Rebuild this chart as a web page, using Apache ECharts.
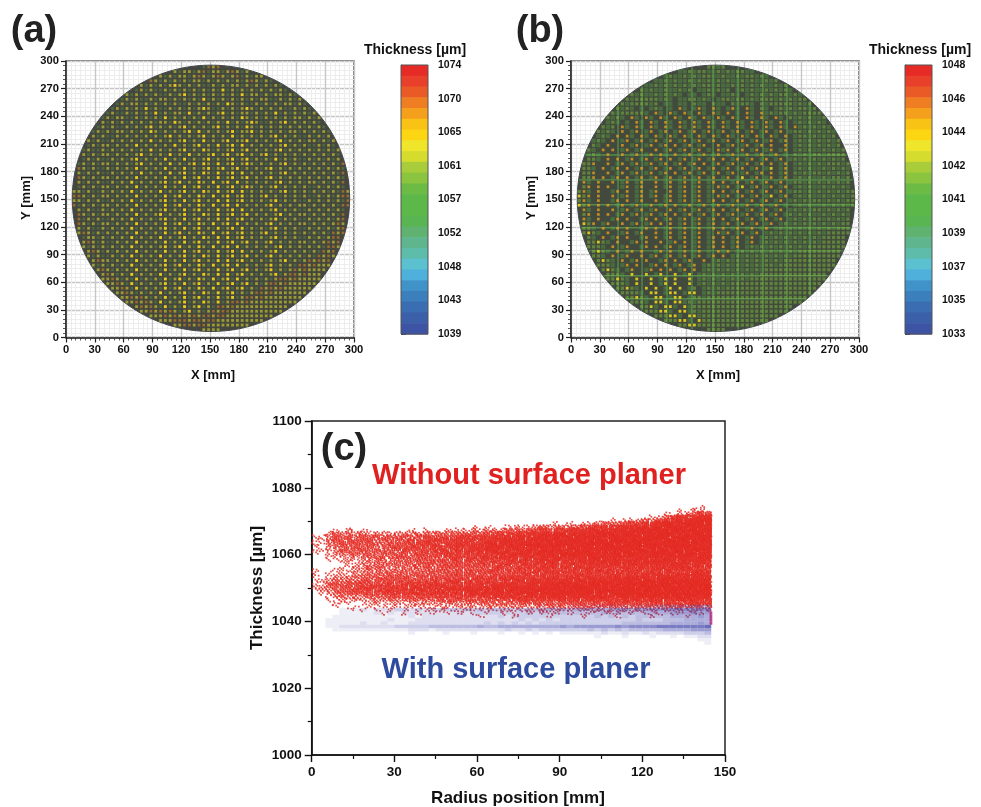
<!DOCTYPE html>
<html><head><meta charset="utf-8">
<script src="https://cdn.jsdelivr.net/npm/echarts@6/dist/echarts.min.js"></script>
<style>html,body{margin:0;background:#fff}#c{width:981px;height:807px}</style></head>
<body><div id="c"></div>
<script>
// ---- Data (hand estimates; the dense dots are summarised as level tables) ----
const waferTicks = [0,30,60,90,120,150,180,210,240,270,300];
const waferCentre = [151,151];
const waferRadius = 144.5;
const rangeA = [1039,1074];
const rangeB = [1033,1048];
const levelThicknessA = [null,1057,1063,1065,1069];
const levelThicknessB = [null,1040,1041.6,1045.4,1044];
// rows top to bottom at 5 mm pitch, columns left to right at 5 mm pitch; cells beyond the wafer edge are dropped.
// 0 none, 1 green, 2 olive/bright green, 3 yellow/amber, 4 amber/yellow
const waferRowsA = [
"2222222222 2222222222 2222242142 4242422222 2222222222 22222222",
"2222222222 2222222222 4212212412 2124212142 4222222222 22222222",
"2222222222 2222222421 2122124212 4212412122 4242222222 22222222",
"2222222222 2222124212 1212122121 2121212421 2124222222 22222222",
"2222222222 2221212121 2321212112 1212212121 2121242222 22222222",
"2222222222 2121212112 1212121212 1312121212 1212124222 22222222",
"2222222221 2212121211 2123121212 1212131221 2122121242 22222222",
"2222222212 1212112122 1212121312 1212121212 2112121212 22222222",
"2222222121 2122121212 1211212121 2132121121 2121221212 12222222",
"2222221212 1212131211 2121212321 1212123212 1212112121 21222222",
"2222212121 1212121312 1221312121 2312122121 2131212121 21222222",
"2222121212 2112121213 1212121312 1212132121 2121212212 12122222",
"2222212121 2121212122 1321212121 2131212321 1212312121 21212222",
"2221212121 1212123121 2123121212 3121213212 1212121212 12122222",
"2212121212 2121213212 1212313121 2123122312 1212122121 21212222",
"2221212112 1212121212 3121212312 1213121212 1231212112 12121222",
"2212121121 2121213121 2123121312 1231223121 2123121212 21212122",
"2121212212 1213121212 1312123121 3123131212 1212312121 12121242",
"2212112121 2121213121 2123121321 2123123121 2123121212 12121212",
"2421212212 1212312121 3121312123 1231231212 3121212121 21212142",
"2212121121 2123121213 1213121231 2123123121 2131212112 12121214",
"2121212212 1212312121 3121231321 3123123212 1212312121 21212142",
"2421211212 1213121213 1213121231 2312312121 2312121212 12121214",
"2212121121 2121312121 3123121321 3123131212 1212312121 21212142",
"4421212212 1213121213 1213123121 3123123121 2312121212 12121214",
"2212121121 2131212123 1231213213 1231312121 2123121212 21212144",
"4121212212 1213121213 1213123121 3123123212 1231212121 12121214",
"2212112121 2131212131 2123121321 3123131212 1212312121 21212142",
"4421212212 1213121213 1231213213 1231231212 3121212121 12121244",
"2212121121 2131212123 1213123121 3131231212 1231212112 12121214",
"4121212212 1213121213 1231213213 1231312121 2312121221 21212144",
"2212112121 2131212123 1213123121 3123131212 1231212112 12121214",
"4421212212 1213121231 2123121321 3123123121 2123121221 21212144",
"2412121121 2131212123 1213123121 3131231212 1231212112 12121244",
"2421212212 1213121213 1231213213 1231312121 2312121221 21212424",
"2212112121 2131212123 1213123121 3123131212 1231212112 12121244",
"2242121212 1213121213 1231213213 1231231212 3121212121 21214242",
"2212212121 2131212131 2123121321 3131231212 1231212112 12124424",
"2224212112 1213121213 1213123121 3123123121 2312121221 21242422",
"2221212121 2131212123 1231213213 1231312121 2123121212 12144222",
"2222421212 1213121213 1213123121 3123131212 1231212121 21424222",
"2222121121 2131212131 2123121321 3123123121 2312121212 14242222",
"2222242212 1213121213 1213123121 3131231212 1212312124 24242222",
"2222212121 2131212123 1231213213 1231312121 2312121442 42222222",
"2222224212 1213121213 1213123121 3123123121 2312124242 22222222",
"2222222421 2131212131 2123121321 3131231212 1231244242 22222222",
"2222222242 1213121213 1231213213 1231312121 2124424222 22222222",
"2222222224 2131212123 1213123121 3123123121 2442422222 22222222",
"2222222222 4213121213 1231213213 1231231214 2424222222 22222222",
"2222222222 2421212131 2123121321 3123121244 2422222222 22222222",
"2222222222 2242421213 1213123121 3123124424 2222222222 22222222",
"2222222222 2224242131 2123121321 3124424222 2222222222 22222222",
"2222222222 2222424213 1213123121 4424222222 2222222222 22222222",
"2222222222 2222224242 4212312124 2442222222 2222222222 22222222",
"2222222222 2222222224 2424242442 4422222222 2222222222 22222222",
"2222222222 2222222222 2444244244 2222222222 2222222222 22222222",
"2222222222 2222222222 2224424422 2222222222 2222222222 22222222",
"2222222222 2222222222 2222244222 2222222222 2222222222 22222222"
];
const waferRowsB = [
"1111111111 1111111111 1111121221 2212111111 1111111111 11111111",
"1111111111 1111111111 2112122112 1212211212 1111111111 11111111",
"1111111111 1111111212 1121212211 2112122121 1211111111 11111111",
"1111111111 1111121121 2112121212 1211212112 1212111111 11111111",
"1111111111 1112112121 2121212212 1121212121 1212121111 11111111",
"1111111111 1212121121 1212011212 1201212112 1212121211 11111111",
"1111111112 1212112121 2101101210 1121012121 2122121212 11111111",
"1111111121 2122222121 0112212101 2212212122 2121212222 11111111",
"1111111212 1222212011 0110211021 1021221021 2222212122 22111111",
"1111112121 2101012101 0310131031 0131031021 0121212212 12111111",
"1111121212 2222103103 1031031031 0301031031 2122121222 21211111",
"1111212121 0310310310 3103103103 1031031031 0310212121 12121111",
"1111121210 1031031031 0310310310 3103103103 1031012121 21212111",
"1112121203 1031031031 0310310310 3103103103 1031031212 12121211",
"1121212103 0130130130 1301301301 3013013013 0130122121 21212111",
"1212121030 3103103103 1031031031 0310310310 3103012212 12121211",
"1121210301 3013013013 0130130130 1301301301 3013012121 21212122",
"1212103003 0130130130 3013013003 0130130130 3003012121 21212121",
"2121030301 3013003013 0130130103 1301301301 3013012121 12121212",
"1212103003 0130130310 3013013013 0130130130 1301021212 21222222",
"2222103030 1301301303 0130130130 3013013013 0130121212 12121221",
"2223003013 0130130130 1301303013 0130130130 3013012121 21222121",
"2221030130 3013013013 0130130130 1301301301 4013012121 12121212",
"2223003013 0130130130 3013013013 0130130130 3013021212 21212122",
"4223030130 3013013013 0130130130 1301401301 3013012121 12122121",
"4310300301 3013003013 0130130130 3013013013 0130122121 21212122",
"4230303001 3013003013 0130130103 1301401301 3013012121 12121212",
"2310300130 3013013003 0130130130 3013013013 0130122121 21212122",
"4230300301 3013013013 0130130103 1301301301 4013012121 12121212",
"2310300130 3013003013 0130130130 3013013013 0130121212 21212122",
"4230303013 0130130130 3013013013 0130130130 1301012121 12121212",
"2310300301 3013013003 0130130130 3013013013 0130121212 21212122",
"4230303013 0130130130 3013013013 0130130130 1301212121 12121212",
"2310300130 3001303013 0130130130 3013013013 0130121212 21212122",
"2423013003 0130130303 0130130130 1301301301 3012121212 12121222",
"2221030130 3001303013 0130130130 3013013013 0121212121 21212222",
"2242103001 3013003013 0130130103 1301301301 2121212121 21222222",
"2221030130 3001303013 0130130130 3013013012 1212121212 12222222",
"2222421030 0130300301 3030130130 3013013012 1212121212 12222222",
"2222210301 3001303013 0130130130 3013012121 2121212122 22222222",
"2222421030 1303001303 0130130103 1301212121 2121212222 22222222",
"2222210301 3003013013 0130130130 3012121212 1212122222 22222222",
"2222242103 0130300130 3013003012 1212121212 1212222222 22222222",
"2222222101 3030013030 1301301212 1212121212 2122222222 22222222",
"2222224210 1300130303 0130301212 1212121212 2222222222 22222222",
"2222222221 0400401400 4014012121 2121212122 2222222222 22222222",
"2222222242 1040040140 4004012121 2121212222 2222222222 22222222",
"2222222222 1040040140 4004012121 2122222222 2222222222 22222222",
"2222222222 4210404014 0401201212 1222222222 2222222222 22222222",
"2222222222 2221044014 4014401212 2222222222 2222222222 22222222",
"2222222222 2242104401 4401221222 2222222222 2222222222 22222222",
"2222222222 2222104410 4412122222 2222222222 2222222222 22222222",
"2222222222 2222241044 1041222222 2222222222 2222222222 22222222",
"2222222222 2222222441 0441212222 2222222222 2222222222 22222222",
"2222222222 2222222224 4104412222 2222222222 2222222222 22222222",
"2222222222 2222222222 2441042222 2222222222 2222222222 22222222",
"2222222222 2222222222 2224422222 2222222222 2222222222 22222222",
"2222222222 2222222222 2222244222 2222222222 2222222222 22222222"
];
const bLinesX = [49,74,100,126,148,174,200,225,249];
const bLinesY = [198,171,144,119,94,67,42];

const radiusTicks = [0,30,60,90,120,150];
const radiusStep = 2.5;
const topRedThickness = 1074;
// density of red points (0-9) per 2.5 mm x 1 um cell, thickness descending from 1074 to 1041
const redDensity = [
"0000000000 0000000000 0000000000 0000000000 0000000000 00000010",
"0000000000 0000000000 0000000000 0000000000 0000000000 00010210",
"0000000000 0000000000 0000000000 0000000000 0000000000 01012354",
"0000000000 0000000000 0000000000 0000000000 0000000001 13465677",
"0000000000 0000000000 0000000000 0000000000 0001011232 45677888",
"0000000000 0000000000 0000000000 0000010101 1233345466 78788888",
"0000000000 0000000000 0001010011 1123232334 5565676677 88889888",
"0001020100 0000101001 1112122233 3445455666 7677778888 88888988",
"0023232212 2122223233 3334344555 5666677677 7888788888 89888898",
"1124343434 3334345444 4555556566 7677788788 8888888898 98889889",
"1134343443 4343544555 5655666777 7788788888 8988889898 88998898",
"1123444343 3444455545 5665677776 8877888888 9888988988 89888988",
"1023334342 3444545555 5656677777 7888887888 8889898989 88989888",
"1122433434 3345444555 5656677677 7878787888 8898888989 88888988",
"1012333333 4434345455 5565667767 7777878788 8888888888 98888888",
"0011222333 3344344445 5555566667 6767777777 8787878788 87888788",
"0011121223 3233344444 5454555566 6667676767 7877777777 78777777",
"0000111223 3333344434 4444545565 5566666666 7677767677 77777676",
"0000112233 3233334344 4444445554 5556656565 6666666666 66776666",
"1001112233 2323333344 3444445454 5555555565 6656565656 66566665",
"1011112233 3333333434 4444444445 5555565565 6665656566 66666766",
"1012223333 3444344444 4444545555 5556565666 6666767676 77767777",
"1123232434 4444444545 5555555566 6666767677 7777878787 88888888",
"1134344444 4545555555 6565666667 6777778788 8888888888 89898988",
"1233444555 5555566666 6666667777 7778788888 8888898898 89898989",
"1223445455 5656666666 6677777778 8788888888 8898989898 98988989",
"0123344444 5555665666 6667677777 8878888888 8888888988 88989898",
"0012322233 3444444455 5555566666 6767777777 7777787878 78788878",
"0011212222 2323333343 4444444445 5555556565 6565666666 66676766",
"0001110112 1121222222 2232333333 4343434444 4445454545 55555655",
"0001001011 1111111112 1212122222 2222323233 3333333333 33343333",
"0000010101 0101011111 1111111111 1212121212 1212121212 12121212",
"0000000000 1001010101 0101010101 0101110101 1011101011 10110110",
"0000000000 0000000000 0000100001 0000100001 0000100001 00001000"
];
const topBlueThickness = 1044;
// density of blue points (0-9), thickness descending from 1044 to 1033
const blueDensity = [
"0000000000 0000000000 0000000000 0001010111 1212121222 33333444",
"0000111212 2233232333 4343434443 4444545455 5555665666 66777777",
"0000111112 1212222222 2323333333 3434344444 4454545455 55666766",
"0001111111 1111212222 2222222323 3333333333 3434343444 44555565",
"0011111111 1211122222 2222222222 3232323333 3333333433 34445555",
"0011111211 2111222222 2222232323 2323333333 3333344444 44555565",
"0011222222 2233333444 4444544555 5555556566 6666767777 88888889",
"0001111111 1111222122 2222222232 2323333333 4343434444 45555666",
"0000000000 0000100001 0001000100 1010101111 1121121121 22223334",
"0000000000 0000000000 0000000000 0000000000 0100010001 00101122",
"0000000000 0000000000 0000000000 0000000000 0000000000 00000011",
"0000000000 0000000000 0000000000 0000000000 0000000000 00000001"
];
const edgeRadius = 144.4;
const edgeThickness = [1039,1040,1041,1042];

// ---- Styles ----
const FONT = '"Liberation Sans", Arial, sans-serif';
const bandColors = ['#e62b27','#e8402a','#ea5a27','#ef7e22','#f5a01d','#f8c314','#fcd612','#efe52a','#d5dc2e','#a8cc3a','#8bc53f','#6cbb45','#5cb848','#5cb848','#58b552','#5fb26f','#5fb58d','#5ebcab','#5bc0d0','#4fb0dc','#3f93c9','#3b7fbc','#3a6db1','#3b5fa9','#3d53a3'];
const dotStyleA = {1:[2.8,2.8,.28],2:[2.8,2.8,.55],3:[2.9,2.9,.9],4:[2.6,2.6,.5]};
const dotStyleB = {1:[4.2,4,.3],2:[3.2,3.2,.48],3:[2.7,2.7,.72],4:[2.8,2.8,.85]};

function rowsToCells(rows, levelThickness){
  const cells=[];
  rows.forEach((r,j)=>{
    const s=r.replace(/ /g,''), y=waferCentre[1]+142.5-5*j;
    for(let c=0;c<s.length;c++){
      const lv=+s[c]; if(!lv) continue;
      const x=waferCentre[0]+(c-28.5)*5;
      if(Math.hypot(x-waferCentre[0],y-waferCentre[1])>waferRadius-1.5) continue;
      cells.push([x,y,levelThickness[lv],lv]);
    }
  });
  return cells;
}
function densityCells(rows, top){
  const cells=[];
  rows.forEach((r,j)=>{
    const s=r.replace(/ /g,'');
    for(let i=0;i<s.length;i++) if(+s[i]) cells.push([i*radiusStep,top-j,+s[i],i,j]);
  });
  return cells;
}

const grids=[], xAxes=[], yAxes=[], series=[], visualMaps=[];
const tickFont={fontFamily:FONT,fontWeight:'bold',color:'#111'};

function addWafer(left, range, rows, levels, dotStyle, discColor, linesX, linesY){
  const g=grids.length;
  grids.push({left,top:61,width:288,height:276.5,show:true,borderColor:'#555',borderWidth:1.5,backgroundColor:'#fff'});
  const ax=(pos)=>({type:'value',gridIndex:g,min:0,max:300,interval:30,position:pos,
    axisLine:{show:true,onZero:false,lineStyle:{color:'#222',width:1.5}},
    axisTick:{show:true,length:5,lineStyle:{color:'#222',width:1.2}},
    minorTick:{show:true,splitNumber:6,length:3,lineStyle:{color:'#333',width:.8}},
    splitLine:{show:true,lineStyle:{color:'#c6c6c6',width:1.4}},
    minorSplitLine:{show:true,lineStyle:{color:'#ededed',width:1}},
    axisLabel:{...tickFont,fontSize:11.2,margin:7,showMinLabel:true,showMaxLabel:true,hideOverlap:false,customValues:waferTicks}});
  xAxes.push(ax('bottom')); yAxes.push(ax('left'));
  series.push({type:'custom',xAxisIndex:g,yAxisIndex:g,silent:true,z:3,
    data:[[waferCentre[0],waferCentre[1],waferRadius]],
    renderItem:(p,api)=>{const c=api.coord([api.value(0),api.value(1)]);const s=api.size([api.value(2),api.value(2)]);
      return {type:'ellipse',shape:{cx:c[0],cy:c[1],rx:s[0],ry:s[1]},style:{fill:discColor,stroke:'#3f4448',lineWidth:1}};}});
  if(linesX.length){
    const rr=waferRadius-.5, cx=waferCentre[0], cy=waferCentre[1];
    const mk=(vert)=>(p,api)=>{const v=api.value(0);
      const off=vert?v-cx:v-cy, h=Math.sqrt(Math.max(0,rr*rr-off*off));
      const a=vert?api.coord([v,cy-h]):api.coord([cx-h,v]), b=vert?api.coord([v,cy+h]):api.coord([cx+h,v]);
      return {type:'line',shape:{x1:a[0],y1:a[1],x2:b[0],y2:b[1]},style:{stroke:'#5c9a50',lineWidth:1.4,opacity:.8}};};
    series.push({type:'custom',xAxisIndex:g,yAxisIndex:g,silent:true,z:4,data:linesX.map(v=>[v]),encode:{x:0},renderItem:mk(true)});
    series.push({type:'custom',xAxisIndex:g,yAxisIndex:g,silent:true,z:4,data:linesY.map(v=>[v]),encode:{y:0},renderItem:mk(false)});
  }
  const idx=series.length;
  series.push({type:'custom',xAxisIndex:g,yAxisIndex:g,silent:true,z:5,
    data:rowsToCells(rows,levels),
    encode:{x:0,y:1},
    renderItem:(p,api)=>{const c=api.coord([api.value(0),api.value(1)]);const st=dotStyle[api.value(3)];
      return {type:'rect',shape:{x:c[0]-st[0]/2,y:c[1]-st[1]/2,width:st[0],height:st[1]},style:{fill:api.visual('color'),opacity:st[2]}};}});
  visualMaps.push({show:false,type:'continuous',seriesIndex:idx,dimension:2,min:range[0],max:range[1],inRange:{color:bandColors.slice().reverse()}});
}
function addColorbar(left, range){
  const g=grids.length, n=bandColors.length, h=(range[1]-range[0])/n;
  grids.push({left,top:65,width:27,height:269,show:false});
  xAxes.push({type:'value',gridIndex:g,min:0,max:1,show:false});
  yAxes.push({type:'value',gridIndex:g,min:range[0],max:range[1],interval:(range[1]-range[0])/8,position:'right',
    axisLine:{show:true,lineStyle:{color:'#444',width:1}},
    axisTick:{show:true,length:5,inside:false,lineStyle:{color:'#333',width:1}},
    splitLine:{show:false},
    axisLabel:{...tickFont,fontSize:10.5,margin:10,showMinLabel:true,showMaxLabel:true,formatter:v=>String(Math.round(v))}});
  series.push({type:'custom',xAxisIndex:g,yAxisIndex:g,silent:true,z:3,
    data:bandColors.map((c,i)=>[range[1]-i*h,range[1]-(i+1)*h,i]),encode:{y:[0,1]},
    renderItem:(p,api)=>{const a=api.coord([0,api.value(0)]),b=api.coord([1,api.value(1)]);
      return {type:'rect',shape:{x:a[0],y:a[1],width:b[0]-a[0],height:b[1]-a[1]+.6},style:{fill:bandColors[api.value(2)]}};}});
  series.push({type:'custom',xAxisIndex:g,yAxisIndex:g,silent:true,z:4,data:[[range[0]]],encode:{y:0},
    renderItem:(p,api)=>{const a=api.coord([0,range[1]]),b=api.coord([1,range[0]]);
      return {type:'rect',shape:{x:a[0],y:a[1],width:b[0]-a[0],height:b[1]-a[1]},style:{fill:'none',stroke:'#555',lineWidth:1}};}});
}
addWafer(66,rangeA,waferRowsA,levelThicknessA,dotStyleA,'#45473f',[],[]);
addColorbar(401,rangeA);
addWafer(571,rangeB,waferRowsB,levelThicknessB,dotStyleB,'#414a3c',bLinesX,bLinesY);
addColorbar(905,rangeB);

// panel (c)
const gc=grids.length;
grids.push({left:311.7,top:421,width:413.3,height:334,show:true,borderColor:'#222',borderWidth:1.5});
const plainLabel=v=>String(v);
xAxes.push({type:'value',gridIndex:gc,min:0,max:150,interval:30,
  axisLine:{show:true,onZero:false,lineStyle:{color:'#111',width:1.6}},
  axisTick:{show:true,length:7,lineStyle:{color:'#111',width:1.4}},
  minorTick:{show:true,splitNumber:2,length:4,lineStyle:{color:'#111',width:1.2}},
  splitLine:{show:false},minorSplitLine:{show:false},
  axisLabel:{...tickFont,fontSize:13.5,margin:10,showMinLabel:true,showMaxLabel:true,formatter:plainLabel}});
yAxes.push({type:'value',gridIndex:gc,min:1000,max:1100,interval:20,
  axisLine:{show:true,onZero:false,lineStyle:{color:'#111',width:1.6}},
  axisTick:{show:true,length:7,lineStyle:{color:'#111',width:1.4}},
  minorTick:{show:true,splitNumber:2,length:4,lineStyle:{color:'#111',width:1.2}},
  splitLine:{show:false},minorSplitLine:{show:false},
  axisLabel:{...tickFont,fontSize:13.5,margin:10,showMinLabel:true,showMaxLabel:true,formatter:plainLabel}});
// Red density cells are drawn as tiny dots so they read as a scatter cloud; the dot count follows the table,
// the placement inside a cell is only a fixed dither pattern, not data.
const dottedCell=(rgb,opacity,size,perLevel)=>(p,api)=>{
  const a=api.coord([api.value(0),api.value(1)+1]),b=api.coord([api.value(0)+radiusStep,api.value(1)]);
  const w=b[0]-a[0],h=b[1]-a[1],n=api.value(2)*perLevel,i=api.value(3),j=api.value(4),kids=[];
  const o1=i*i*.1371+j*j*.2913+i*j*.1733, o2=i*i*.2311+j*j*.0977+i*j*.3119;
  for(let k=0;k<n;k++){
    const u=(k*.7548777+o1)%1, v=(k*.5698403+o2)%1;
    kids.push({type:'rect',shape:{x:a[0]+u*w-.6,y:a[1]+v*h-.6,width:size,height:size},style:{fill:rgb,opacity}});
  }
  return {type:'group',children:kids};};
const softCell=(rgb,scale)=>(p,api)=>{
  const a=api.coord([api.value(0),api.value(1)+1]),b=api.coord([api.value(0)+radiusStep,api.value(1)]);
  return {type:'rect',shape:{x:a[0],y:a[1],width:b[0]-a[0],height:b[1]-a[1]},style:{fill:rgb,opacity:api.value(2)/9*scale}};};
series.push({name:'Without surface planer',type:'custom',xAxisIndex:gc,yAxisIndex:gc,silent:true,z:3,
  data:densityCells(redDensity,topRedThickness),encode:{x:0,y:1},renderItem:dottedCell('#e42a22',.85,1.7,3)});
series.push({name:'With surface planer',type:'custom',xAxisIndex:gc,yAxisIndex:gc,silent:true,z:4,
  data:densityCells(blueDensity,topBlueThickness),encode:{x:0,y:1},renderItem:softCell('#4446ab',.8)});
series.push({type:'custom',xAxisIndex:gc,yAxisIndex:gc,silent:true,z:5,
  data:edgeThickness.map(t=>[edgeRadius,t]),encode:{x:0,y:1},
  renderItem:(p,api)=>{const a=api.coord([api.value(0),api.value(1)+1]),b=api.coord([api.value(0)+1,api.value(1)]);
    return {type:'rect',shape:{x:a[0],y:a[1],width:b[0]-a[0],height:b[1]-a[1]},style:{fill:'#b3267f',opacity:.85}};}});

const txt=(text,x,y,size,color,extra)=>({type:'text',x,y,z:20,rotation:extra&&extra.rot||0,
  style:{text,fontFamily:FONT,fontWeight:'bold',fontSize:size,fill:color,align:extra&&extra.align||'center',verticalAlign:'middle'}});
const graphic=[
 txt('(a)',34,32,38,'#222'),
 txt('(b)',540,32,38,'#222'),
 txt('(c)',344,450,38,'#222'),
 txt('Thickness [\u00b5m]',415,50,14,'#111'),
 txt('Thickness [\u00b5m]',920,50,14,'#111'),
 txt('X [mm]',213,375,13,'#111'),
 txt('X [mm]',718,375,13,'#111'),
 txt('Y [mm]',26,198,13,'#111',{rot:Math.PI/2}),
 txt('Y [mm]',531,198,13,'#111',{rot:Math.PI/2}),
 txt('Thickness [\u00b5m]',257,588,17,'#111',{rot:Math.PI/2}),
 txt('Radius position [mm]',518,798,17,'#111'),
 txt('Without surface planer',529,476,29,'#e0211f'),
 txt('With surface planer',516,670,29,'#2e4b9f')
];
const chart=echarts.init(document.getElementById('c'),null,{renderer:'canvas'});
chart.setOption({animation:false,backgroundColor:'#fff',grid:grids,xAxis:xAxes,yAxis:yAxes,visualMap:visualMaps,series,graphic});
</script></body></html>
